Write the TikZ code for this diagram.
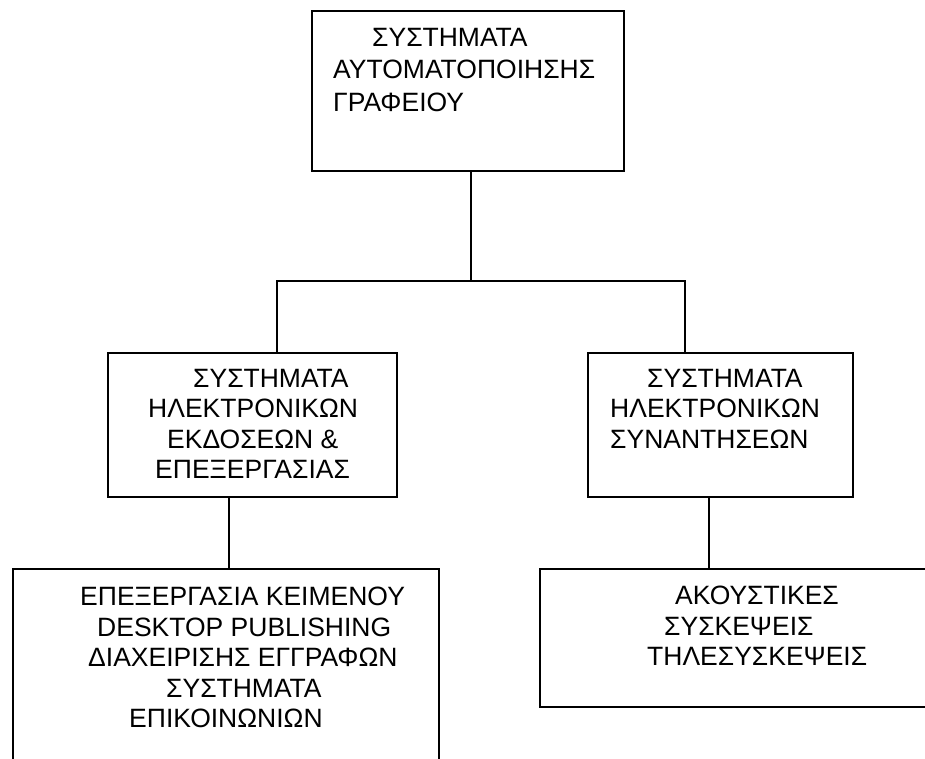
\documentclass[tikz,border=0pt]{standalone}
\usepackage{fontspec}
\setmainfont{Liberation Sans}
\begin{document}
\begin{tikzpicture}[x=1pt, y=-1pt,
    box/.style={rectangle, draw=black, line width=1.3pt, inner sep=0pt},
    txt/.style={anchor=north west, align=left, inner sep=0pt,
      font=\fontsize{26.5}{30.5}\selectfont},
    link/.style={draw=black, line width=1.3pt}
  ]
  \path[use as bounding box, clip] (0,0) rectangle (925,758);

  \node[box, minimum width=312pt, minimum height=160pt] (top) at (468,91) {};
  \node[box, minimum width=289pt, minimum height=144pt] (midL) at (252.5,425) {};
  \node[box, minimum width=265pt, minimum height=144pt] (midR) at (720.5,425) {};
  \node[box, minimum width=426pt, minimum height=240pt] (botL) at (226,689) {};
  \node[box, minimum width=420pt, minimum height=138pt] (botR) at (750,638) {};

  \node[txt, font=\fontsize{26.5}{32.5}\selectfont] (topTxt) at (333,27.7)
    {\hspace*{39pt}ΣΥΣΤΗΜΑΤΑ\\ΑΥΤΟΜΑΤΟΠΟΙΗΣΗΣ\\ΓΡΑΦΕΙΟΥ};
  \node[txt] (midLTxt) at (148,369)
    {\hspace*{45pt}ΣΥΣΤΗΜΑΤΑ\\ΗΛΕΚΤΡΟΝΙΚΩΝ\\\hspace*{19pt}ΕΚΔΟΣΕΩΝ \&\\\hspace*{7pt}ΕΠΕΞΕΡΓΑΣΙΑΣ};
  \node[txt] (midRTxt) at (610,369)
    {\hspace*{37pt}ΣΥΣΤΗΜΑΤΑ\\ΗΛΕΚΤΡΟΝΙΚΩΝ\\ΣΥΝΑΝΤΗΣΕΩΝ};
  \node[txt] (botLTxt) at (80,587)
    {ΕΠΕΞΕΡΓΑΣΙΑ ΚΕΙΜΕΝΟΥ\\\hspace*{17pt}DESKTOP PUBLISHING\\\hspace*{8pt}ΔΙΑΧΕΙΡΙΣΗΣ ΕΓΓΡΑΦΩΝ\\\hspace*{86pt}ΣΥΣΤΗΜΑΤΑ\\\hspace*{49pt}ΕΠΙΚΟΙΝΩΝΙΩΝ};
  \node[txt] (botRTxt) at (647,586)
    {\hspace*{28pt}ΑΚΟΥΣΤΙΚΕΣ\\\hspace*{17pt}ΣΥΣΚΕΨΕΙΣ\\ΤΗΛΕΣΥΣΚΕΨΕΙΣ};

  \coordinate (fork) at (471,281);
  \coordinate (forkL) at (277,281);
  \coordinate (forkR) at (685,281);
  \coordinate (dropL) at (229,0);
  \coordinate (dropR) at (709,0);

  \draw[link] (fork |- top.south) -- (fork);
  \draw[link] (forkL |- midL.north) -- (forkL) -- (forkR) -- (forkR |- midR.north);
  \draw[link] (dropL |- midL.south) -- (dropL |- botL.north);
  \draw[link] (dropR |- midR.south) -- (dropR |- botR.north);
\end{tikzpicture}
\end{document}
